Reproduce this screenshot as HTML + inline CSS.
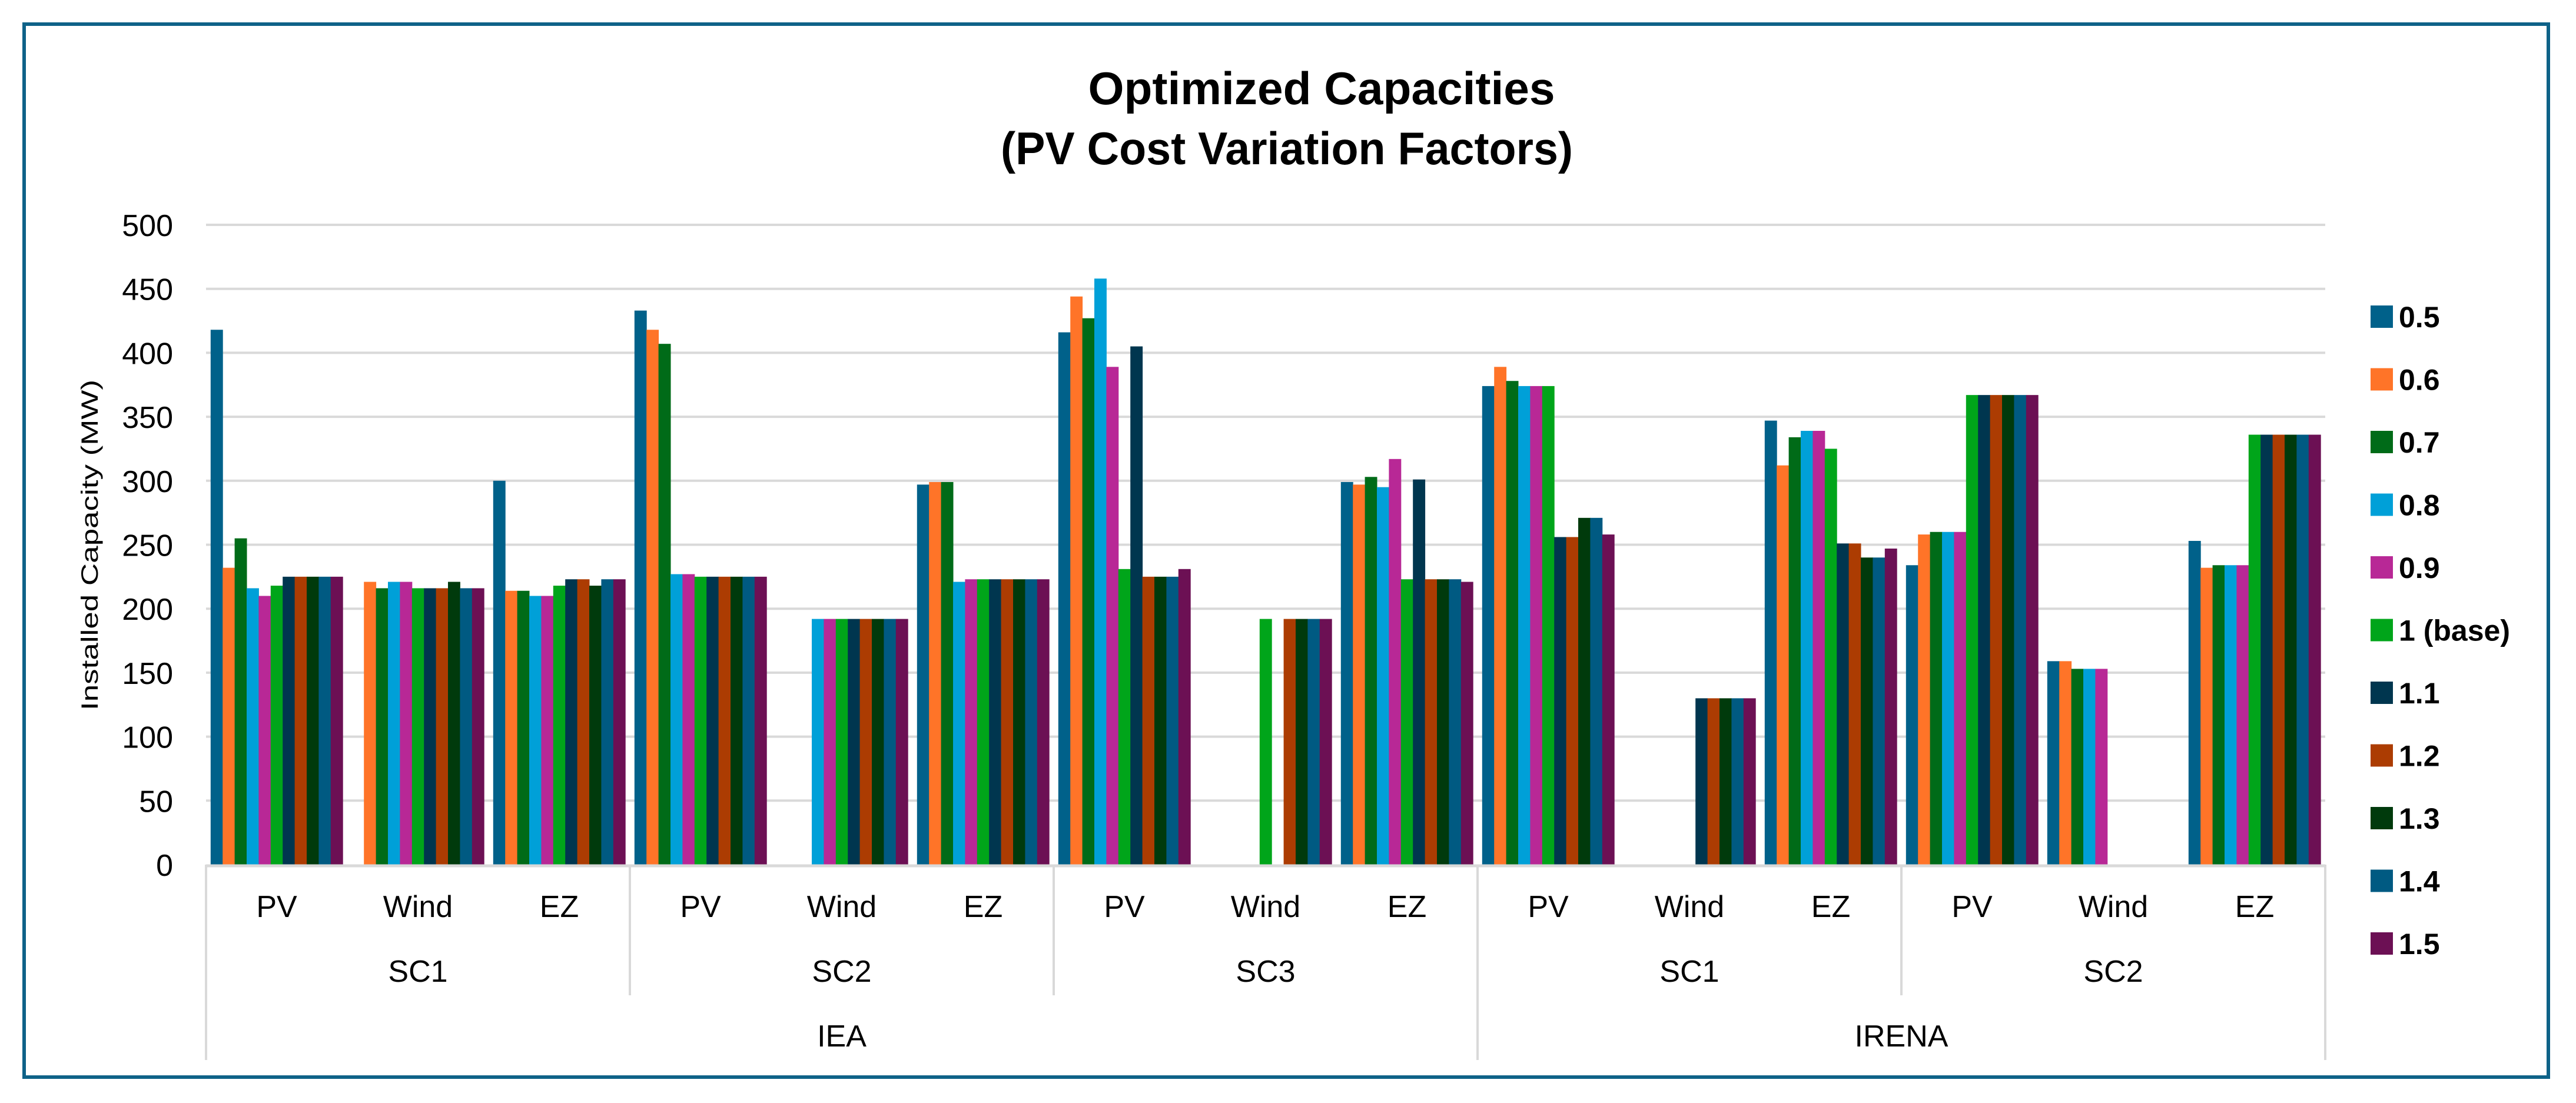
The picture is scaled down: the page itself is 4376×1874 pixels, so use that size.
<!DOCTYPE html>
<html><head><meta charset="utf-8"><title>Optimized Capacities</title>
<style>html,body{margin:0;padding:0;background:#fff}svg{display:block}</style></head>
<body>
<svg id="chart" xmlns="http://www.w3.org/2000/svg" width="4376" height="1874" viewBox="0 0 4376 1874">
<rect x="0" y="0" width="4376" height="1874" fill="#fff"/>
<rect x="41" y="41" width="4288" height="1789" fill="none" stroke="#0e6288" stroke-width="6"/>
<text x="2245" y="177" text-anchor="middle" font-family="Liberation Sans, sans-serif" font-weight="bold" font-size="78" textLength="793" lengthAdjust="spacingAndGlyphs">Optimized Capacities</text>
<text x="2186" y="279" text-anchor="middle" font-family="Liberation Sans, sans-serif" font-weight="bold" font-size="78" textLength="972" lengthAdjust="spacingAndGlyphs">(PV Cost Variation Factors)</text>
<text transform="translate(166,926) rotate(-90)" text-anchor="middle" font-family="Liberation Sans, sans-serif" font-size="40" textLength="562" lengthAdjust="spacingAndGlyphs">Installed Capacity (MW)</text>
<g id="grid"></g><g id="bars"></g><g id="axes"></g><g id="legend"></g>
</svg>
<script>
const categories = ["PV","Wind","EZ","PV","Wind","EZ","PV","Wind","EZ","PV","Wind","EZ","PV","Wind","EZ"];
const scenarios = ["SC1","SC2","SC3","SC1","SC2"];
const sources = ["IEA","IRENA"];
const sourceSpans = [3,2];
const seriesNames = ["0.5","0.6","0.7","0.8","0.9","1 (base)","1.1","1.2","1.3","1.4","1.5"];
const seriesColors = ["#00618a","#ff7428","#006b18","#00a0d8","#b82896","#00a51a","#00364f","#ac3c02","#003a0c","#005a82","#6c1054"];
const s05 = [418,0,300,433,0,297,416,0,299,374,0,347,234,159,253];
const s06 = [232,221,214,418,0,299,444,0,297,389,0,312,258,159,232];
const s07 = [255,216,214,407,0,299,427,0,303,378,0,334,260,153,234];
const s08 = [216,221,210,227,192,221,458,0,295,374,0,339,260,153,234];
const s09 = [210,221,210,227,192,223,389,0,317,374,0,339,260,153,234];
const s10 = [218,216,218,225,192,223,231,192,223,374,0,325,367,0,336];
const s11 = [225,216,223,225,192,223,405,0,301,256,130,251,367,0,336];
const s12 = [225,216,223,225,192,223,225,192,223,256,130,251,367,0,336];
const s13 = [225,221,218,225,192,223,225,192,223,271,130,240,367,0,336];
const s14 = [225,216,223,225,192,223,225,192,223,271,130,240,367,0,336];
const s15 = [225,216,223,225,192,223,231,192,221,258,130,247,367,0,336];
const yTicks = [0,50,100,150,200,250,300,350,400,450,500];

const series = [s05,s06,s07,s08,s09,s10,s11,s12,s13,s14,s15];
const NS = "http://www.w3.org/2000/svg";
const L = 350, R = 3950, Y0 = 1469, Y500 = 382;
const catW = (R - L) / categories.length;
const barW = catW * 0.085, barOff = (catW - barW * series.length) / 2;
function y(v){ return Y0 - (v / 500) * (Y0 - Y500); }
function x(i){ return L + i * catW; }
function mk(tag, attrs, parent, txt){
  const e = document.createElementNS(NS, tag);
  for (const k in attrs) e.setAttribute(k, attrs[k]);
  if (txt !== undefined) e.textContent = txt;
  parent.appendChild(e); return e;
}
const grid = document.getElementById('grid'), bars = document.getElementById('bars'),
      axes = document.getElementById('axes'), legend = document.getElementById('legend');
const F = "Liberation Sans, sans-serif";
yTicks.forEach(t => {
  if (t > 0) {
    const g = mk('line', {x1:L, x2:R, y1:y(t), y2:y(t), stroke:'#d9d9d9', 'stroke-width':4}, grid);
    
    
  }
  const lab = mk('text', {x:294, y:y(t)+19, 'text-anchor':'end', 'font-family':F, 'font-size':52, fill:'#000'}, axes, String(t));
  
  
});
series.forEach((vals, s) => {
  vals.forEach((v, i) => {
    if (v <= 0) return;
    const b = mk('rect', {x:x(i)+barOff+s*barW, y:y(v), width:barW+0.5, height:Y0-y(v), fill:seriesColors[s]}, bars);
    
    
  });
});
const ax = mk('line', {x1:L, x2:R, y1:Y0+2, y2:Y0+2, stroke:'#d9d9d9', 'stroke-width':5}, axes);


categories.forEach((c, i) => {
  const t = mk('text', {x:x(i)+catW/2, y:1558, 'text-anchor':'middle', 'font-family':F, 'font-size':52}, axes, c);
  
  
});
scenarios.forEach((sc, j) => {
  const t = mk('text', {x:L + (j*3+1.5)*catW, y:1668, 'text-anchor':'middle', 'font-family':F, 'font-size':52}, axes, sc);
  
  
});
for (let j = 0; j <= scenarios.length; j++) {
  const xx = L + j*3*catW;
  const outer = (j === 0 || j === 3 || j === scenarios.length);
  const ln = mk('line', {x1:xx, x2:xx, y1:Y0, y2: outer ? 1801 : 1691, stroke:'#d9d9d9', 'stroke-width':4}, axes);
  
  
}
let acc = 0;
sources.forEach((s, k) => {
  const cx = L + (acc + sourceSpans[k]/2) * 3 * catW;
  acc += sourceSpans[k];
  const t = mk('text', {x:cx, y:1778, 'text-anchor':'middle', 'font-family':F, 'font-size':52}, axes, s);
  
  
});
seriesNames.forEach((n, s) => {
  const cy = 538 + s * 106.5;
  const g = mk('g', {}, legend);
  
  
  const sw = mk('rect', {x:4027, y:cy-19, width:38, height:38, fill:seriesColors[s]}, g);
  
  
  const t = mk('text', {x:4075, y:cy+18, 'font-family':F, 'font-weight':'bold', 'font-size':50}, g, n);
  
  
});
</script>
</body></html>
